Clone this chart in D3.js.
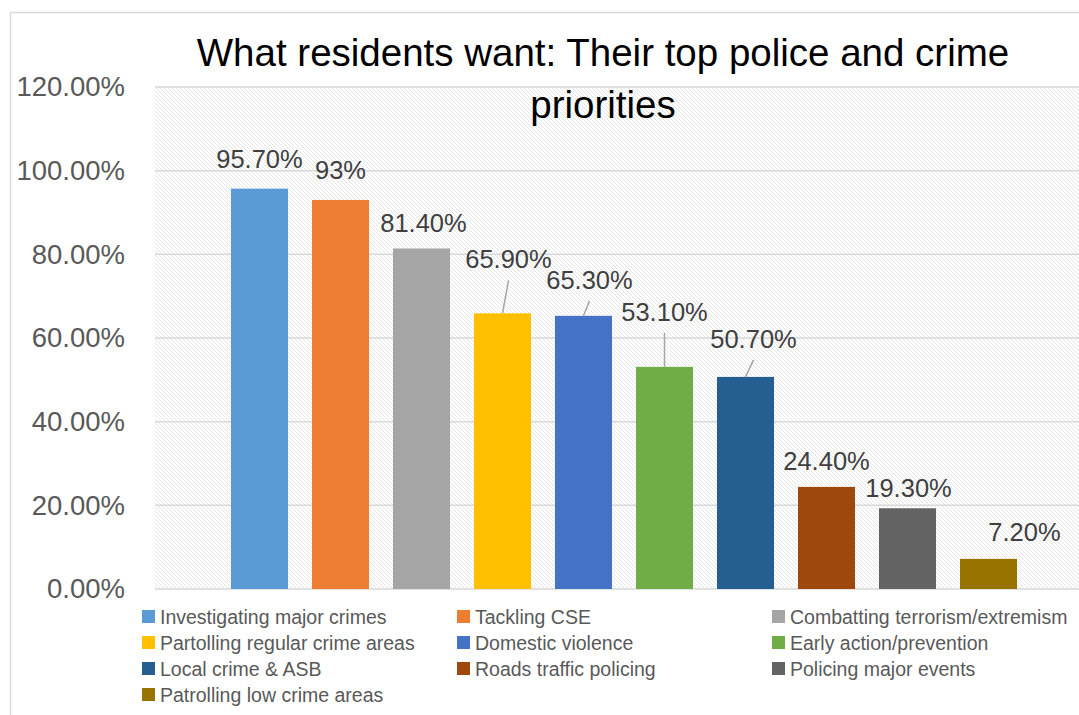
<!DOCTYPE html>
<html>
<head>
<meta charset="utf-8">
<script src="https://cdn.jsdelivr.net/npm/d3@7"></script>
<style>
  body { margin: 0; background: #fff; }
  svg { display: block; font-family: "Liberation Sans", Arial, sans-serif; }
</style>
</head>
<body>
<svg id="chart" width="1079" height="715"></svg>
<script>
// data
var priorities = ["Investigating major crimes", "Tackling CSE", "Combatting terrorism/extremism",
    "Partolling regular crime areas", "Domestic violence", "Early action/prevention",
    "Local crime & ASB", "Roads traffic policing", "Policing major events", "Patrolling low crime areas"];
var shares = [0.957, 0.93, 0.814, 0.659, 0.653, 0.531, 0.507, 0.244, 0.193, 0.072];
var shareLabels = ["95.70%", "93%", "81.40%", "65.90%", "65.30%", "53.10%", "50.70%", "24.40%", "19.30%", "7.20%"];
var yTicks = [0, 0.2, 0.4, 0.6, 0.8, 1.0, 1.2];
var colors = ["#5B9BD5", "#ED7D31", "#A5A5A5", "#FFC000", "#4472C4", "#70AD47", "#255E91", "#9E480E", "#636363", "#997300"];

var svg = d3.select("#chart");
var plot = {left: 155, right: 1093, top: 87, bottom: 589};

// chart area border
svg.append("rect")
    .attr("x", 10.5).attr("y", 12.5)
    .attr("width", 1100).attr("height", 800)
    .attr("fill", "none").attr("stroke", "#d9d9d9").attr("stroke-width", 1.5);

// hatch pattern for plot background
var defs = svg.append("defs");
var pat = defs.append("pattern")
    .attr("id", "hatch").attr("patternUnits", "userSpaceOnUse")
    .attr("width", 4).attr("height", 4);
pat.append("rect").attr("width", 4).attr("height", 4).attr("fill", "#fff");
pat.append("path").attr("d", "M-1,-1 L5,5 M-1,3 L1,5 M3,-1 L5,1")
    .attr("stroke", "#e0e0e0").attr("stroke-width", 0.8);

var x = d3.scaleBand()
    .domain(priorities)
    .range([plot.left, plot.right])
    .paddingInner(0.296)
    .paddingOuter(0.938);

var y = d3.scaleLinear()
    .domain([0, 1.2])
    .range([plot.bottom, plot.top]);

svg.append("rect")
    .attr("x", plot.left).attr("y", plot.top)
    .attr("width", plot.right - plot.left).attr("height", plot.bottom - plot.top)
    .attr("fill", "url(#hatch)");

// gridlines
svg.append("g").selectAll("line")
    .data(yTicks)
    .enter().append("line")
    .attr("x1", plot.left).attr("x2", plot.right)
    .attr("y1", function(d){ return y(d); })
    .attr("y2", function(d){ return y(d); })
    .attr("stroke", "#d9d9d9").attr("stroke-width", 1.5);

// y axis labels
var yAxis = d3.axisLeft(y)
    .tickValues(yTicks)
    .tickFormat(d3.format(".2%"))
    .tickSize(0)
    .tickPadding(30);
var gy = svg.append("g")
    .attr("transform", "translate(" + plot.left + ",0)")
    .call(yAxis);
gy.select(".domain").remove();
gy.selectAll("text")
    .attr("fill", "#595959")
    .style("font-size", "27.5px");

// bars
svg.append("g").selectAll("rect")
    .data(shares)
    .enter().append("rect")
    .attr("x", function(d, i){ return x(priorities[i]); })
    .attr("y", function(d){ return y(d); })
    .attr("width", x.bandwidth())
    .attr("height", function(d){ return y(0) - y(d); })
    .attr("fill", function(d, i){ return colors[i]; });

// label offsets relative to bar centre / top: [dx, dy of baseline, leader]
var labelPos = [
    [0, -21, false], [0, -21, false], [2, -16, false],
    [6, -45, true], [6, -27, true], [0, -46, true], [8, -29, true],
    [0, -17, false], [1, -11, false], [36, -18, false]
];

var labels = svg.append("g");
shares.forEach(function(d, i){
    var cx = x(priorities[i]) + x.bandwidth() / 2;
    var top = y(d);
    var p = labelPos[i];
    if (p[2]) {
        labels.append("line")
            .attr("x1", cx + p[0]).attr("y1", top + p[1] + 12)
            .attr("x2", cx).attr("y2", top)
            .attr("stroke", "#a6a6a6").attr("stroke-width", 1.5);
    }
    labels.append("text")
        .attr("x", cx + p[0]).attr("y", top + p[1])
        .attr("text-anchor", "middle")
        .attr("fill", "#404040")
        .style("font-size", "25.5px")
        .text(shareLabels[i]);
});

// title
var title = svg.append("text")
    .attr("text-anchor", "middle")
    .attr("fill", "#000")
    .style("font-size", "38.5px");
title.append("tspan").attr("x", 603).attr("y", 66).text("What residents want: Their top police and crime");
title.append("tspan").attr("x", 603).attr("y", 118).text("priorities");

// legend
var colX = [142, 457, 772];
var rowY = [617, 643, 669, 695];
var legend = svg.append("g").selectAll("g")
    .data(priorities)
    .enter().append("g")
    .attr("transform", function(d, i){
        return "translate(" + colX[i % 3] + "," + rowY[Math.floor(i / 3)] + ")";
    });
legend.append("rect")
    .attr("x", 0).attr("y", -7)
    .attr("width", 13).attr("height", 13)
    .attr("fill", function(d, i){ return colors[i]; });
legend.append("text")
    .attr("x", 18).attr("y", 7)
    .attr("fill", "#595959")
    .style("font-size", "19.5px")
    .text(function(d){ return d; });
</script>
</body>
</html>
